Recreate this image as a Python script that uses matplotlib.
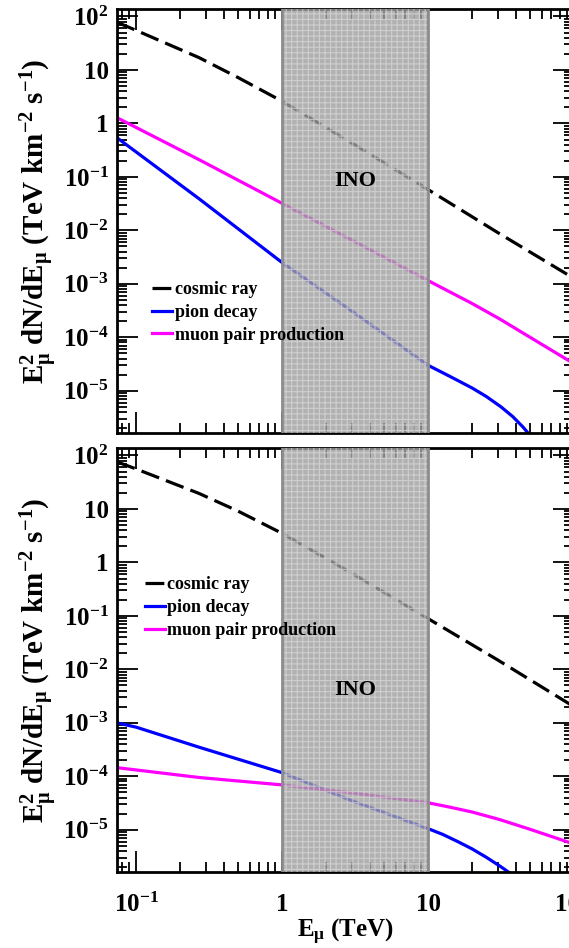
import matplotlib
matplotlib.use("Agg")
import matplotlib.pyplot as plt
from matplotlib.ticker import FixedLocator, FixedFormatter, LogLocator, NullFormatter

plt.rcParams['font.family'] = ['Liberation Serif', 'DejaVu Serif']
plt.rcParams['font.weight'] = 'bold'
plt.rcParams['mathtext.fontset'] = 'custom'
plt.rcParams['mathtext.rm'] = 'Liberation Serif:bold'
plt.rcParams['mathtext.it'] = 'Liberation Serif:bold'
plt.rcParams['mathtext.bf'] = 'Liberation Serif:bold'
plt.rcParams['mathtext.default'] = 'rm'
plt.rcParams['hatch.linewidth'] = 0.8

# ---- data (E in TeV, E^2 dN/dE in TeV km^-2 s^-1) ----
labels = ["cosmic ray", "pion decay", "muon pair production"]

# top panel
e_top_cr = [0.074, 0.1, 0.27, 0.5, 1, 3, 10, 30, 100]
f_top_cr = [78, 55, 17, 7.2, 2.6, 0.43, 0.058, 9.1e-3, 1.26e-3]
e_top_pi = [0.074, 0.27, 1, 3, 10, 14.1, 20, 25.1, 31.6, 38, 44.7, 52.5]
f_top_pi = [0.54, 0.039, 2.5e-3, 3.1e-4, 3.0e-5, 1.86e-5, 1.13e-5, 7.8e-6,
            5.0e-6, 3.3e-6, 2.1e-6, 1.25e-6]
e_top_mu = [0.074, 0.27, 1, 3, 10, 20, 31, 50, 100]
f_top_mu = [1.28, 0.21, 0.032, 6.6e-3, 1.15e-3, 4.3e-4, 2.2e-4, 1.0e-4, 3.2e-5]

# bottom panel
e_bot_cr = [0.074, 0.1, 0.27, 0.5, 1, 3, 10, 30, 100]
f_bot_cr = [76, 56, 19.5, 9.1, 3.5, 0.63, 0.089, 0.015, 2.0e-3]
e_bot_pi = [0.074, 0.1, 0.27, 1, 3, 10, 12.6, 15.8, 20, 25.1, 31.6, 39.8, 50]
f_bot_pi = [1.0e-3, 8.3e-4, 3.5e-4, 1.17e-4, 3.5e-5, 1.05e-5, 8.2e-6, 6.1e-6,
            4.4e-6, 3.05e-6, 2.03e-6, 1.3e-6, 8e-7]
e_bot_mu = [0.074, 0.27, 1, 3, 10, 14, 20, 31, 50, 71, 100]
f_bot_mu = [1.45e-4, 9.5e-5, 6.9e-5, 4.9e-5, 3.2e-5, 2.66e-5, 2.15e-5, 1.55e-5,
            1.02e-5, 7.4e-6, 5.4e-6]

ino_range = (1, 10)
y_ticks = [1e2, 1e1, 1, 1e-1, 1e-2, 1e-3, 1e-4, 1e-5]
y_ticklabels = [r'$10^{2}$', '10', '1', r'$10^{-1}$', r'$10^{-2}$',
                r'$10^{-3}$', r'$10^{-4}$', r'$10^{-5}$']
x_ticks = [0.1, 1, 10, 100]
x_ticklabels = [r'$10^{-1}$', '1', '10', '100']

XLIM = (0.074, 100)
YLIM = (10 ** -5.79, 10 ** 2.14)

fig = plt.figure(figsize=(5.69, 9.48), dpi=100)


def draw_panel(ax, e_cr, f_cr, e_pi, f_pi, e_mu, f_mu, ino_y, leg_xy, show_x):
    ax.set_xscale('log')
    ax.set_yscale('log')
    ax.plot(e_cr, f_cr, color='black', lw=2.3, dashes=(5.9, 2.3), label=labels[0], zorder=2)
    ax.plot(e_pi, f_pi, color='#0000ff', lw=2.3, label=labels[1], zorder=2)
    ax.plot(e_mu, f_mu, color='#ff00ff', lw=2.3, label=labels[2], zorder=2)

    # INO band
    ax.axvspan(*ino_range, facecolor=(0.62, 0.62, 0.62, 0.8),
               edgecolor=(0.86, 0.86, 0.86, 0.7), hatch='+++', lw=0, zorder=3)
    for xv in ino_range:
        ax.axvline(xv, color='#8c8c8c', lw=2, zorder=3)
    ax.text(3.16, ino_y, 'INO', fontsize=16, fontweight='bold', ha='center',
            va='center', zorder=4)

    ax.set_xlim(*XLIM)
    ax.set_ylim(*YLIM)
    ax.yaxis.set_major_locator(FixedLocator(y_ticks))
    ax.yaxis.set_major_formatter(FixedFormatter(y_ticklabels))
    ax.yaxis.set_minor_locator(LogLocator(base=10, subs=range(2, 10), numticks=20))
    ax.yaxis.set_minor_formatter(NullFormatter())
    ax.xaxis.set_major_locator(FixedLocator(x_ticks))
    ax.xaxis.set_minor_locator(LogLocator(base=10, subs=range(2, 10), numticks=20))
    ax.xaxis.set_minor_formatter(NullFormatter())
    if show_x:
        ax.xaxis.set_major_formatter(FixedFormatter(x_ticklabels))
    else:
        ax.xaxis.set_major_formatter(NullFormatter())

    ax.tick_params(which='both', direction='in', top=True, right=True, width=1.3,
                   labelsize=18)
    ax.tick_params(axis='y', pad=6)
    ax.tick_params(axis='x', pad=15)
    ax.tick_params(which='major', length=15)
    ax.tick_params(which='minor', length=7)
    for s in ax.spines.values():
        s.set_linewidth(2)

    ax.set_ylabel(r'$E_{\mu}^{2}$ dN/d$E_{\mu}$ (TeV km$^{-2}$ s$^{-1}$)', fontsize=21,
                  fontweight='bold', labelpad=2)

    ax.legend(loc='upper left', bbox_to_anchor=leg_xy, frameon=False, fontsize=13,
              handlelength=1.1, handletextpad=0.15, labelspacing=0.32, borderpad=0,
              borderaxespad=0)


# ---- top panel ----
ax1 = fig.add_axes([117 / 569, 1 - 433 / 948, 457 / 569, 424 / 948])
draw_panel(ax1, e_top_cr, f_top_cr, e_top_pi, f_top_pi, e_top_mu, f_top_mu,
           0.085, (0.077, 0.358), False)

# ---- bottom panel ----
ax2 = fig.add_axes([117 / 569, 1 - 872 / 948, 457 / 569, 424 / 948])
draw_panel(ax2, e_bot_cr, f_bot_cr, e_bot_pi, f_bot_pi, e_bot_mu, f_bot_mu,
           4.2e-3, (0.061, 0.697), True)
ax2.set_xlabel(r'$E_{\mu}$ (TeV)', fontsize=18, fontweight='bold', labelpad=0)

fig.savefig('out.png', dpi=100)
